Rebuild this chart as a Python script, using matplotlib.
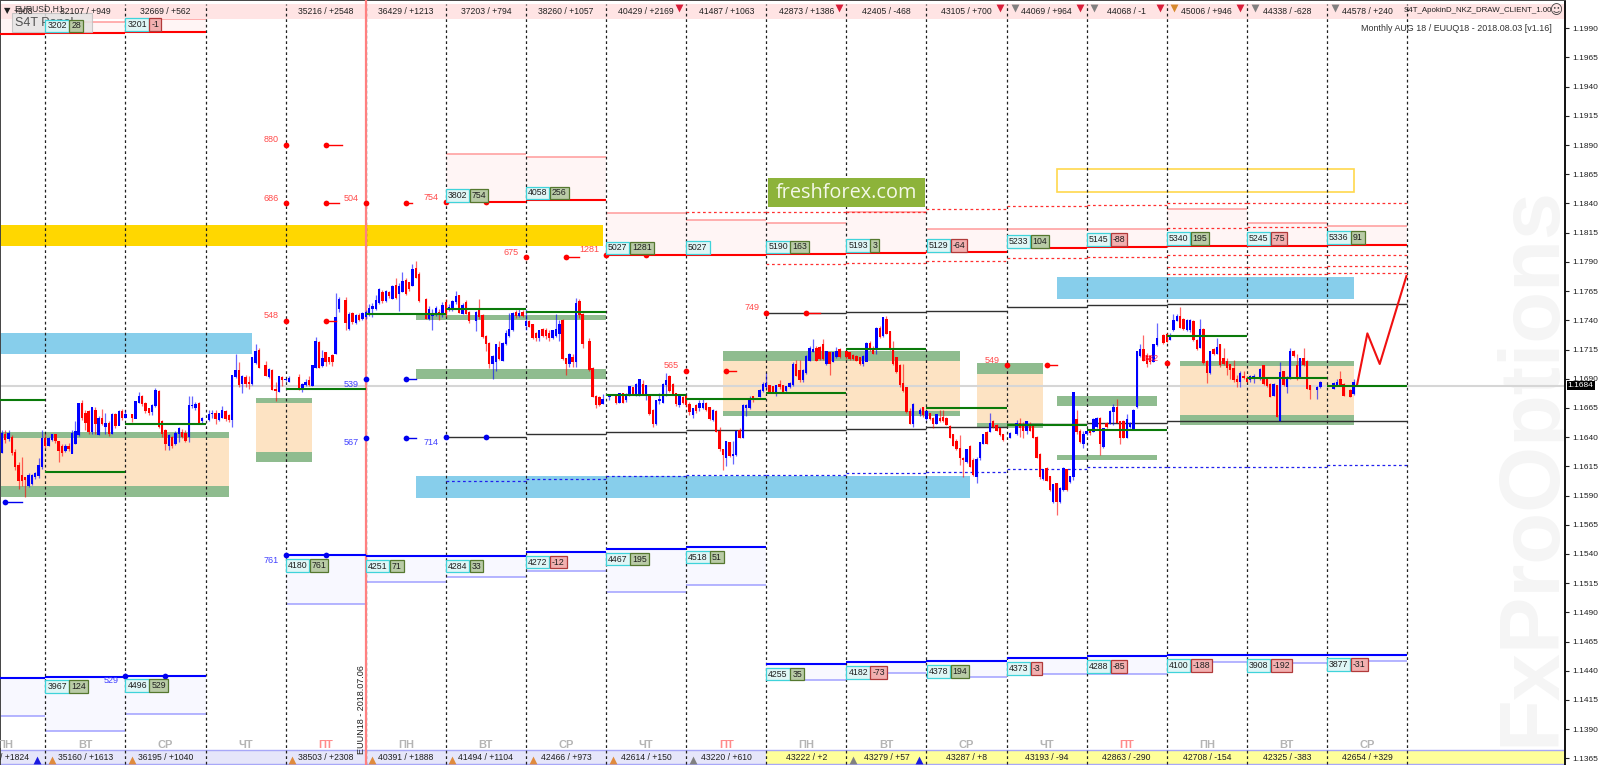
import numpy as np
import matplotlib
matplotlib.use("Agg")
import matplotlib.pyplot as plt
from matplotlib.patches import Rectangle
import logging

logging.getLogger("matplotlib.font_manager").setLevel(logging.ERROR)
plt.rcParams["font.family"] = ["Liberation Sans Narrow", "Liberation Sans", "DejaVu Sans"]

# hourly candles, pips above 1.1500: (open, close, high, low). equal values = empty slot
bars_week1 = [
    (127,143,146,126),(142,138,146,135),(139,143,146,137),(140,127,142,125),(127,115,130,112),
    (116,103,119,96),(107,103,123,98),(105,104,106,89),(99,107,109,97),(100,107,108,99),
    (106,109,110,104),(107,116,122,105),(115,139,146,113),(139,133,143,131),(133,139,140,132),
    (138,142,143,137),(142,137,143,135),(136,129,137,119),(132,127,134,124),(129,132,134,127),
    (132,130,135,128),(126,143,146,126),(135,145,154,134),(142,169,169,141),(169,157,172,155),
    (160,153,163,146),(162,145,163,143),(145,165,165,143),(163,152,166,143),(142,156,158,142),
    (156,152,164,150),(149,152,161,143),(152,143,154,141),(143,159,161,143),(159,150,161,148),
    (150,162,163,150),(162,157,164,155),(157,159,163,156),(158,158,158,158),(159,157,160,153),
    (156,170,171,156),(170,175,179,169),(175,169,176,167),(169,163,170,161),(164,161,165,159),
    (162,167,168,159),(167,180,182,166),(179,149,180,148),(153,143,155,140),(146,135,147,129),
    (133,141,143,129),(140,133,141,131),(135,143,145,133),(143,147,149,136),(144,141,147,139),
    (143,137,146,136),(141,167,175,136),(167,167,175,165),(165,168,170,163),(169,153,170,151),
    (154,156,157,152),(155,155,155,155),(155,159,163,154),(160,160,163,156),(160,156,163,151),
    (155,160,161,154),(157,163,167,156),(162,156,163,154),(158,155,160,153),(155,193,193,149),
    (192,197,211,191),(197,185,204,183),(186,192,193,178),(191,186,193,183),(187,186,192,181),
    (186,208,208,185),(204,213,220,203),(214,200,216,199),(200,200,200,200),(201,193,205,192),
    (192,198,199,191),(197,181,198,180),(181,180,187,171),(179,192,192,179),(191,189,192,184),
    (189,189,190,188),(188,190,192,187),(190,190,190,190),(190,190,190,190),(191,181,194,180),
    (181,185,186,179),(185,187,190,184),(188,185,192,184),(184,201,202,184),(200,222,226,199),
    (221,200,222,199),(201,207,215,200),(212,205,213,201),(208,205,209,203),(210,205,211,201),
    (212,242,263,211),
]
bars_week2 = [
    (250,258,260,247),(255,255,255,255),(257,238,260,232),(233,245,247,232),(246,239,247,237),
    (238,244,245,237),(244,241,246,239),(242,246,247,240),(243,247,249,241),(246,250,254,244),
    (250,252,255,243),(250,257,262,249),(255,266,268,254),(264,257,266,255),(257,265,266,256),
    (264,261,265,259),(259,269,270,258),(270,260,276,258),(263,269,272,248),(265,273,281,264),
    (274,263,276,262),(272,267,273,265),(270,283,288,269),(284,277,291,276),(279,257,281,256),
    (257,257,257,257),(258,242,259,241),(242,249,252,240),(244,246,250,232),(246,250,252,244),
    (247,246,250,240),(245,253,256,243),(255,245,258,243),(249,251,254,248),(250,256,257,248),
    (256,260,265,254),(261,247,262,246),(246,253,255,245),(255,246,257,245),(247,240,248,238),
    (241,241,241,241),(240,247,248,231),(249,243,258,241),(244,226,245,225),(226,220,227,214),
    (220,203,221,199),(203,209,210,190),(205,219,220,197),(217,207,222,206),(206,220,221,205),
    (220,229,232,219),(227,232,246,226),(232,246,247,231),(247,244,249,242),(244,246,250,243),
    (247,244,249,243),(236,239,250,232),(239,235,240,234),(236,225,237,224),(229,225,230,222),
    (225,231,232,222),(232,227,233,226),(231,227,233,224),(229,225,232,222),(225,231,232,224),
    (227,232,245,226),(229,236,240,222),(240,207,241,206),(207,203,208,193),(203,211,212,200),
    (208,205,211,200),(205,254,259,200),(256,245,258,242),(245,220,246,216),(220,220,220,220),
    (222,198,225,197),(199,175,200,174),(175,168,176,165),(174,168,175,167),(169,172,177,168),
    (172,172,172,172),(175,176,177,172),(176,176,176,176),(176,170,177,168),(170,177,178,169),
    (177,170,178,169),(172,176,178,170),(176,183,184,175),(182,177,183,176),(177,185,186,175),
    (176,189,189,175),(185,177,189,176),(177,184,185,172),(176,160,177,159),(163,152,164,149),
    (152,171,172,150),(171,172,178,168),(170,185,186,169),(185,188,195,175),(192,180,193,179),
    (185,177,186,176),(177,169,178,167),(168,175,177,166),
]
bars_week3 = [
    (174,170,175,168),(175,168,176,166),(168,162,170,159),(159,164,165,156),(167,163,168,161),
    (165,169,172,162),(165,169,173,164),(169,164,170,162),(165,156,166,155),(155,163,164,154),
    (162,145,163,144),(145,130,149,128),(129,125,130,112),(123,136,137,115),(135,124,136,123),
    (124,125,137,117),(125,145,146,124),(146,140,148,139),(140,167,168,139),(165,167,168,158),
    (165,173,175,164),(175,173,175,170),(174,174,174,174),(175,180,181,174),(180,185,187,179),
    (183,186,195,182),(184,179,185,178),(183,179,184,178),(178,184,185,175),(185,183,189,181),
    (184,179,185,178),(180,183,184,178),(183,186,187,182),(185,202,204,184),(202,193,206,192),
    (197,189,206,187),(189,197,198,187),(195,209,210,194),(206,216,218,205),(213,215,224,213),
    (216,206,218,205),(217,207,218,206),(219,207,224,206),(203,213,214,202),(212,203,213,193),
    (205,212,213,204),(209,213,217,208),(215,209,216,208),(209,209,209,209),(213,209,214,207),
    (212,207,213,206),(210,207,211,206),(209,206,210,205),(208,203,209,202),(203,209,210,201),
    (205,220,221,205),(220,215,222,214),(215,212,218,211),(215,233,234,211),(233,226,235,225),
    (227,242,243,226),(241,229,244,228),(230,216,231,215),(216,203,222,202),(208,196,209,195),
    (201,185,203,183),(186,180,203,179),(182,162,183,161),(162,152,165,151),(152,168,169,149),
    (161,161,161,161),(160,163,165,158),(165,159,166,157),(156,162,163,155),(160,156,161,155),
    (156,152,157,148),(152,159,160,151),(156,154,163,153),(157,154,163,153),(156,151,157,150),
    (149,140,150,139),(142,133,143,132),(136,130,138,129),(130,123,142,116),(122,121,123,106),
    (119,129,130,118),(132,115,133,114),(120,108,122,107),(106,121,123,101),(123,135,136,120),
    (135,142,143,134),(144,135,145,134),(145,152,161,144),(153,149,155,148),(150,146,151,145),
    (147,142,148,141),
]
bars_week4 = [
    (142,138,143,137),(139,139,139,139),(140,143,144,139),(142,142,142,142),(143,152,155,142),
    (152,148,156,140),(150,146,153,139),(146,153,154,143),(151,146,153,145),(149,140,150,139),
    (140,123,141,122),(125,106,126,104),(105,112,113,103),(113,103,114,102),(106,95,107,94),
    (85,99,100,84),(100,85,101,73),(85,96,97,84),(95,113,114,94),(112,95,113,94),
    (102,106,107,101),(106,178,178,103),(155,145,163,143),(145,136,147,135),(135,142,145,131),
    (143,145,146,142),(145,144,146,142),(145,155,156,144),(149,156,157,148),(156,135,157,125),
    (132,147,148,131),(152,149,153,148),(152,162,163,151),(162,165,168,150),(165,153,173,152),
    (153,140,154,134),(153,140,155,139),(140,155,160,139),(149,152,153,148),(147,163,164,146),
    (166,213,214,165),(210,215,220,209),(215,206,227,205),(210,203,212,200),(209,205,210,203),
    (205,219,220,204),(219,224,238,218),(224,224,224,224),(227,221,228,220),(228,222,229,221),
    (224,227,229,223),(232,240,245,231),(240,243,245,239),(243,234,251,233),(241,233,242,232),
    (232,240,241,231),(232,240,241,230),(239,224,240,222),(223,216,224,215),(217,232,241,216),
    (232,204,233,203),(205,195,206,186),(195,213,214,194),(215,212,216,210),(212,217,225,211),
    (219,202,220,200),(207,203,216,202),(205,200,208,193),(202,198,203,190),(199,189,206,187),
    (189,188,193,183),(188,194,197,183),(192,191,197,190),(190,188,192,187),(189,192,193,187),
    (191,192,194,186),(192,192,192,192),(190,198,199,189),(201,186,202,185),(189,184,190,183),
    (185,175,186,174),(176,185,186,175),(184,158,185,157),(154,195,204,154),(196,185,197,184),
    (183,191,192,178),(191,213,216,190),(213,210,215,209),(201,190,211,189),(192,207,208,191),
    (207,202,216,201),(205,182,206,181),(184,181,185,173),(181,181,181,181),(181,182,184,173),
    (183,187,188,182),(187,187,187,187),(187,187,187,187),(187,187,187,187),(182,186,187,181),
    (185,187,190,184),(189,185,197,184),(185,176,186,175),(176,176,176,176),(180,175,181,174),
    (177,187,190,176),
]

# forecast line
forecast_bar = [406, 409.1, 412.8, 420.8]
forecast_pips = [184.6, 228.8, 202.6, 277.9]

# levels by day segment (segment k starts at day line k)
red_segs = [-1, 0, 1, 5, 6, 7, 8, 9, 10, 11, 12, 13, 14, 15, 16]
red_main = [485.4, 486, 487, 341, 343, 295.9, 296.2, 296.8, 297.9, 298.2, 301.6, 303, 303.9, 303.9, 304.7]
red_top = [500, 495.7, 497.7, 382.1, 380.1, 331.6, 325.9, 323.6, 332.7, 318.4, 318.4, 317.9, 335.5, 323.3, 320.5]
red_box1 = ["", "3202", "3201", "3802", "4058", "5027", "5027", "5190", "5193", "5129", "5233", "5145", "5340", "5245", "5336"]
red_box2 = ["", "28", "-1", "754", "256", "1281", "", "163", "3", "-64", "104", "-88", "195", "-75", "91"]

dash_up_segs = [8, 9, 10, 11, 12, 13, 14, 15, 16]
dash_up = [332.7, 332.7, 332.7, 335, 337.9, 338.5, 340.2, 340.2, 340.7]
dash_a_segs = [12, 13, 14, 15, 16, 14, 15]
dash_a = [293.6, 294.2, 295.7, 296, 296.2, 319.3, 319.9]
dash_b_segs = [9, 10, 11, 14, 15, 16, 14, 15, 16]
dash_b = [288.2, 289.3, 290.5, 285.4, 285.4, 286.2, 279.4, 279.4, 280.5]

black_up_segs = [9, 10, 11, 12, 13, 14, 15, 16]
black_up = [246.5, 246.8, 248.2, 251.1, 253.1, 253.7, 253.7, 254.2]
black_low_segs = [5, 6, 7, 8, 9, 10, 11, 12, 13, 14, 15, 16]
black_low = [139.8, 142.4, 144.6, 146.1, 146.1, 146.9, 148.4, 151.2, 151.8, 153.4, 153.5, 154]
blue_dash = [102, 103.9, 106.7, 107.6, 107.6, 109, 110.1, 112.7, 114.1, 114.7, 114.7, 116.1]

blue_segs = [-1, 0, 1, 3, 4, 5, 6, 7, 8, 9, 10, 11, 12, 13, 14, 15, 16]
blue_main = [-66.5, -65.1, -64.3, 39, 38.2, 38.2, 41.6, 44.2, 45.9, -54.3, -52.8, -52, -49.4, -47.7, -46.8, -46.8, -46.3]
blue_thin = [-99, -111.6, -96.8, -2.9, 16.3, 20.6, 25, 7.4, 13.6, -68.2, -61.7, -65.1, -62.8, -63, -52.6, -53.2, -51.7]
blue_box1 = ["", "3967", "4496", "4180", "4251", "4284", "4272", "4467", "4518", "4255", "4182", "4378", "4373", "4288", "4100", "3908", "3877"]
blue_box2 = ["", "124", "529", "761", "71", "33", "-12", "195", "51", "35", "-73", "194", "-3", "-85", "-188", "-192", "-31"]

green_segs = [-1, 0, 1, 3, 4, 5, 6, 7, 8, 9, 10, 11, 12, 13, 14, 15, 16]
green_lines = [171.8, 110.1, 151.5, 180.9, 245.1, 249.9, 247.1, 175.8, 172.4, 177.8, 215.2, 164.9, 150.6, 145.8, 226.8, 190.6, 184]

# zones: bar range and price limits
zone_left = [-1, 76, 124, 216, 292, 316, 353]
zone_right = [68, 93, 181, 287, 312, 346, 405]
zone_a_top = [144.1, 173.5, 244.5, 213.7, 203.2, 175.4, 205.2]
zone_a_bot = [139.5, 169.5, 240.3, 205.2, 193.8, 166.6, 200.9]
zone_b_top = [98.1, 127.5, 198.6, 162.6, 152.3, 124.9, 158.9]
zone_b_bot = [88.7, 118.4, 189.5, 158.3, 148.1, 120.7, 150.1]
zone_filled = [True, True, False, True, True, False, True]

sky_left = [-1, 124, 316]
sky_right = [75, 290, 405]
sky_top = [229.4, 106.7, 276.8]
sky_bot = [210.9, 88.1, 258.5]

# dots on day lines: segment, pips, label, tail length in bars
red_dot_segs = [3, 3, 4, 5, 6, 7, 3, 8, 9, 12]
red_dot_pips = [390.1, 340.2, 340.2, 341, 293.9, 295.9, 239.4, 196.6, 246.5, 201.5]
red_dot_text = ["880", "686", "504", "754", "675", "1281", "548", "565", "749", "549"]
red_dot_tail = [5, 4, 2, 0, 4, 0, 3, 3, 4, 3]
blue_dot_segs = [-1, 4, 4, 5, 1, 3]
blue_dot_pips = [84.2, 189.5, 139.5, 139.8, -64.3, 39]
blue_dot_text = ["", "539", "567", "714", "529", "761"]
blue_dot_tail = [5, 3, 3, 0, 0, 0]

# strips
top_labels = ["32107 / +949", "32669 / +562", "", "35216 / +2548", "36429 / +1213", "37203 / +794",
              "38260 / +1057", "40429 / +2169", "41487 / +1063", "42873 / +1386", "42405 / -468",
              "43105 / +700", "44069 / +964", "44068 / -1", "45006 / +946", "44338 / -628", "44578 / +240"]
bottom_labels = ["35160 / +1613", "36195 / +1040", "", "38503 / +2308", "40391 / +1888", "41494 / +1104",
                 "42466 / +973", "42614 / +150", "43220 / +610", "43222 / +2", "43279 / +57", "43287 / +8",
                 "43193 / -94", "42863 / -290", "42708 / -154", "42325 / -383", "42654 / +329"]
day_names = ["ПН", "ВТ", "СР", "ЧТ", "ПТ", "ПН", "ВТ", "СР", "ЧТ", "ПТ", "ПН", "ВТ", "СР", "ЧТ", "ПТ", "ПН", "ВТ", "СР"]

top_red_marks = [202.9, 250.8, 299, 323, 347, 371]
top_grey_marks = [303.4, 327.3, 375.3, 399.3]
top_orange_marks = [351.3]
bottom_orange_marks = [14.9, 39, 87, 111, 135, 159, 183]
bottom_grey_marks = [207, 255]
bottom_blue_marks = [10.5, 274.8]

tick_prices = [round(1.1990 - 0.0025 * n, 4) for n in range(26)]
last_price = 1.1684


def price(pips):
    return 1.15 + np.asarray(pips, dtype=float) / 10000


def line_x(k):
    return 13 + 24 * k


bars = bars_week1 + bars_week2 + bars_week3 + bars_week4
opens, closes, highs, lows = [np.array(c, dtype=float) for c in zip(*bars)]
idx = np.arange(len(bars))

fig = plt.figure(figsize=(16, 7.65), dpi=100)
ax = fig.add_axes([0, 0, 1565.3 / 1600, 1])
ax.set_xlim(-0.57, 468.4)
ax.set_ylim(1.13593, 1.20142)

# background zones ---------
ax.fill_between([-1, 180], price(321.6), price(303.6), color="#ffd700", lw=0, zorder=1)
for l, r, t, b in zip(sky_left, sky_right, sky_top, sky_bot):
    ax.fill_between([l, r], price(t), price(b), color="#87ceeb", lw=0, zorder=1)
ax.add_patch(Rectangle((316, price(350.1)), 89, price(369.3) - price(350.1), fill=False,
                       ec="#ffd84d", lw=1.2, zorder=1))
for l, r, at, ab, bt, bb, f in zip(zone_left, zone_right, zone_a_top, zone_a_bot, zone_b_top,
                                   zone_b_bot, zone_filled):
    if f:
        ax.fill_between([l, r], price(ab), price(bt), color="#fde3c3", lw=0, zorder=1)
    ax.fill_between([l, r], price(at), price(ab), color="#8fbc8f", lw=0, zorder=1.1)
    ax.fill_between([l, r], price(bt), price(bb), color="#8fbc8f", lw=0, zorder=1.1)

# shaded level ranges
for s, m, t in zip(red_segs, red_main, red_top):
    ax.fill_between([line_x(s), line_x(s + 1)], price(m), price(t), color="#fff5f5", lw=0, zorder=0.8)
    ax.plot([line_x(s), line_x(s + 1)], [price(t)] * 2, color="#ff9a9a", lw=1.1, zorder=2,
            solid_capstyle="butt")
for s, m, t in zip(blue_segs, blue_main, blue_thin):
    ax.fill_between([line_x(s), line_x(s + 1)], price(t), price(m), color="#f8f8ff", lw=0, zorder=0.8)
    ax.plot([line_x(s), line_x(s + 1)], [price(t)] * 2, color="#a0a0ff", lw=1.1, zorder=2,
            solid_capstyle="butt")

ax.axhline(last_price, color="#d6d6d6", lw=1.5, zorder=1.5)

# day lines
day_lines = [line_x(k) for k in range(18)]
ax.vlines(day_lines, 1.13593 + 0.0001, 1.2011, colors="#202020", lw=0.9, linestyles=(0, (2.2, 2.2)), zorder=2.5)
ax.axvline(109, color="#ff8080", lw=1.6, zorder=2.6)

# dashed and thin level lines
for segs, vals, col in [(dash_up_segs, dash_up, "#ff3030"), (dash_a_segs, dash_a, "#ff3030"),
                        (dash_b_segs, dash_b, "#ff3030"), (black_low_segs, blue_dash, "#2020ee")]:
    for s, v in zip(segs, vals):
        ax.plot([line_x(s), line_x(s + 1)], [price(v)] * 2, color=col, lw=0.9,
                ls=(0, (2.2, 2.2)), zorder=3)
for segs, vals in [(black_up_segs, black_up), (black_low_segs, black_low)]:
    for s, v in zip(segs, vals):
        ax.plot([line_x(s), line_x(s + 1)], [price(v)] * 2, color="#303030", lw=1.0, zorder=3,
                solid_capstyle="butt")

# candles ------------
up = closes >= opens
for mask, col in [(up, "#0000ff"), (~up, "#ff0000")]:
    real = mask & (highs > lows)
    ax.vlines(idx[real], price(lows[real]), price(highs[real]), colors=col, lw=0.9, alpha=0.6, zorder=4)
    ax.bar(idx[real], price(np.abs(closes[real] - opens[real]) + 1) - 1.15,
           bottom=price(np.minimum(opens[real], closes[real]) - 0.5), width=0.72, color=col, lw=0, zorder=4.1)

ax.plot(forecast_bar, price(forecast_pips), color="#f01010", lw=1.5, zorder=4.3)

# main levels on top of the candles
for s, v in zip(green_segs, green_lines):
    ax.plot([line_x(s), line_x(s + 1)], [price(v)] * 2, color="#0a7a0a", lw=1.5, zorder=5, solid_capstyle="butt")
for s, v in zip(red_segs, red_main):
    ax.plot([line_x(s), line_x(s + 1)], [price(v)] * 2, color="#ff0000", lw=1.5, zorder=5, solid_capstyle="butt")
for s, v in zip(blue_segs, blue_main):
    ax.plot([line_x(s), line_x(s + 1)], [price(v)] * 2, color="#0000ff", lw=1.5, zorder=5, solid_capstyle="butt")


def box(x, y, txt, dx, dy, fc, ec):
    ax.annotate(txt, xy=(x, y), xytext=(dx, dy), textcoords="offset pixels", fontsize=6.3, color="#202020",
                ha="left", va="center", zorder=7,
                bbox=dict(boxstyle="square,pad=0.22", fc=fc, ec=ec, lw=0.9))


def value_box(x, y, first, second, dy):
    if first:
        box(x, y, first, 2, dy, "#dff6f6", "#3fd3da")
    if second:
        neg = second.startswith("-")
        box(x, y, second, 26, dy, "#f2b0b0" if neg else "#b9cba6", "#b03a3a" if neg else "#55782f")


for s, v, a, b in zip(red_segs, red_main, red_box1, red_box2):
    value_box(line_x(s), price(v), a, b, 7)
for s, v, a, b in zip(blue_segs, blue_main, blue_box1, blue_box2):
    value_box(line_x(s), price(v), a, b, -10)

# dots with small labels
for segs, vals, texts, tails, col, tcol, dy in [
        (red_dot_segs, red_dot_pips, red_dot_text, red_dot_tail, "#ff0000", "#ff4a4a", 5),
        (blue_dot_segs, blue_dot_pips, blue_dot_text, blue_dot_tail, "#0000ee", "#4040ff", -5)]:
    for s, v, t, tail in zip(segs, vals, texts, tails):
        x0 = line_x(s)
        ax.scatter([x0, x0 + 12], [price(v)] * 2, s=17, color=col, lw=0, zorder=6)
        if tail:
            ax.plot([x0 + 12, x0 + 12 + tail], [price(v)] * 2, color=col, lw=1, zorder=5.5)
        ax.annotate(t, xy=(x0, price(v)), xytext=(-7, dy), textcoords="offset pixels", ha="right", va="center",
                    fontsize=6.5, color=tcol, zorder=6)
ax.scatter([line_x(14)], [price(203.7)], s=17, color="#ff0000", lw=0, zorder=6)
ax.text(line_x(14) - 2.5, price(207), "682", fontsize=6.5, color="#ff2a50", ha="right", va="center", zorder=6)

# strips --------
top_h = 14 / 765
ax.add_patch(Rectangle((0, 1 - 18.5 / 765), 1, top_h, transform=ax.transAxes, fc="#ffe4e4", ec="none", zorder=2.2))
ax.add_patch(Rectangle((0, 1 - 763.5 / 765), 1, 13.5 / 765, transform=ax.transAxes, fc="#ffff99", ec="none", zorder=2.2))
ax.add_patch(Rectangle((0, 1 - 763.5 / 765), 766.3 / 1565.3, 13.5 / 765, transform=ax.transAxes, fc="#e6e6fa", ec="none", zorder=2.21))
for yy in (1 - 750 / 765, 1 - 763.5 / 765):
    ax.plot([0, 1], [yy, yy], transform=ax.transAxes, color="#a8a8f8", lw=1, zorder=2.3)

y_top = 1 - 11 / 765
y_bottom = 1 - 757 / 765
y_days = 1 - 745 / 765
trans = ax.get_xaxis_transform()
for k, t in enumerate(top_labels):
    ax.text(line_x(k) + 12, y_top, t, transform=trans, ha="center", va="center", fontsize=6.2, color="#202020", zorder=8)
for k, t in enumerate(bottom_labels):
    ax.text(line_x(k) + 12, y_bottom, t, transform=trans, ha="center", va="center", fontsize=6.2, color="#202020", zorder=8)
for k, t in enumerate(day_names):
    ax.text(line_x(k - 1) + 12, y_days, t, transform=trans, ha="center", va="center", fontsize=8, fontweight="bold",
            color="#ff8a8a" if t == "ПТ" else "#b4b4b4", zorder=8)
ax.text(-0.5, y_bottom, "/ +1824", transform=trans, ha="left", va="center", fontsize=6.2, color="#202020", zorder=8)

ax.scatter(top_red_marks, [1 - 8 / 765] * len(top_red_marks), transform=trans, marker="v", s=32, color="#d81e3a", lw=0, zorder=8)
ax.scatter(top_grey_marks, [1 - 8 / 765] * len(top_grey_marks), transform=trans, marker="v", s=32, color="#808080", lw=0, zorder=8)
ax.scatter(top_orange_marks, [1 - 8 / 765], transform=trans, marker="v", s=32, color="#d68a2e", lw=0, zorder=8)
ax.scatter(bottom_orange_marks, [1 - 760 / 765] * len(bottom_orange_marks), transform=trans, marker="^", s=32, color="#e08a3c", lw=0, zorder=8)
ax.scatter(bottom_grey_marks, [1 - 760 / 765] * len(bottom_grey_marks), transform=trans, marker="^", s=32, color="#808080", lw=0, zorder=8)
ax.scatter(bottom_blue_marks, [1 - 760 / 765] * len(bottom_blue_marks), transform=trans, marker="^", s=32, color="#1a1ae0", lw=0, zorder=8)

# top left panel and captions
ax.add_patch(Rectangle((12 / 1565.3, 1 - 32 / 765), 80 / 1565.3, 19 / 765, transform=ax.transAxes,
                       fc="#e4e4e4", ec="#c0c0c0", alpha=0.85, lw=0.8, zorder=6.5))
ax.text(15 / 1565.3, 1 - 23 / 765, "S4T Panel", transform=ax.transAxes, fontsize=9, color="#505050", va="center", zorder=6.6)
ax.text(7 / 1565.3, 1 - 11 / 765, "▼", transform=ax.transAxes, fontsize=6, color="#202020", va="center", ha="center",
        family="DejaVu Sans", zorder=8)
ax.text(14 / 1565.3, 1 - 11 / 765, "+908", transform=ax.transAxes, fontsize=6.2, color="#202020", va="center", zorder=8)
ax.text(14 / 1565.3, 1 - 9 / 765, "EURUSD,H1", transform=ax.transAxes, fontsize=6.2, color="#303030", va="center", zorder=8)
ax.text(1404 / 1565.3, 1 - 10 / 765, "S4T_ApokinD_NKZ_DRAW_CLIENT_1.00", transform=ax.transAxes, fontsize=5.7, color="#202020",
        va="center", zorder=8)
ax.text(1556 / 1565.3, 1 - 11 / 765, "☺", transform=ax.transAxes, fontsize=9, color="#404040", va="center", ha="center",
        family="DejaVu Sans", zorder=8)
ax.text(1552 / 1565.3, 1 - 28.5 / 765, "Monthly AUG 18 / EUUQ18 - 2018.08.03 [v1.16]", transform=ax.transAxes, fontsize=6.4,
        color="#303030", va="center", ha="right", zorder=8)
ax.text(361 / 1565.3, 1 - 710 / 765, "EUUN18 - 2018.07.06", transform=ax.transAxes, rotation=90, fontsize=6.5,
        color="#202020", va="center", ha="center", zorder=8, family="Liberation Sans")

# freshforex badge
ax.add_patch(Rectangle((767.7 / 1565.3, 1 - 206.7 / 765), 156.8 / 1565.3, 29 / 765, transform=ax.transAxes,
                       fc="#8db33a", ec="none", zorder=6))
ax.text(846 / 1565.3, 1 - 192.5 / 765, "freshforex.com", transform=ax.transAxes, fontsize=14.3, color="#f4f8e8",
        ha="center", va="center", family="Open Sans", zorder=6.1)

# watermark
ax.text(1532 / 1565.3, 1 - 466 / 765, "FxProOptions", transform=ax.transAxes, rotation=90, fontsize=61,
        fontweight="bold", color="#f5f5f5", ha="center", va="center", family="Liberation Sans", zorder=0.5, clip_on=True)

# axis ----------
ax.set_xticks([])
ax.yaxis.tick_right()
ax.set_yticks(tick_prices)
ax.set_yticklabels([f"{p:.4f}" for p in tick_prices], fontsize=6, color="#202020")
ax.tick_params(axis="y", length=3, width=0.8, pad=2, color="#202020")
ax.spines["bottom"].set_visible(False)
for name, col in (("left", "#444444"), ("top", "#444444"), ("right", "#101010")):
    ax.spines[name].set_color(col)
    ax.spines[name].set_linewidth(1.4)
ax.annotate(f"{last_price:.4f}", xy=(1, last_price), xycoords=("axes fraction", "data"), xytext=(2.5, 0),
            textcoords="offset pixels", fontsize=6, color="white", va="center", ha="left", zorder=9, annotation_clip=False,
            bbox=dict(boxstyle="square,pad=0.15", fc="black", ec="none"))

fig.savefig("out.png", dpi=100)
